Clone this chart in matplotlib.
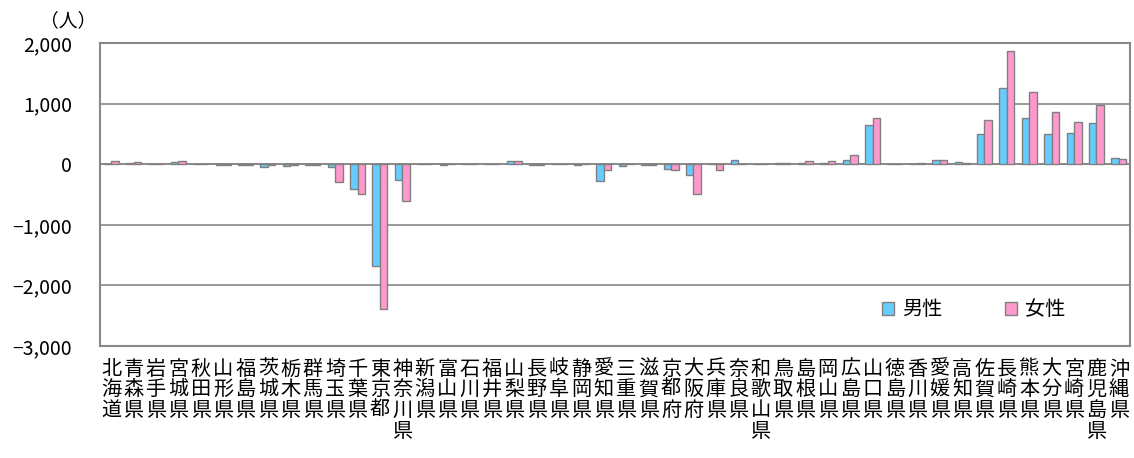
import numpy as np
import matplotlib
matplotlib.use("Agg")
import matplotlib.pyplot as plt
from matplotlib.ticker import FuncFormatter

plt.rcParams['font.family'] = ['Noto Sans CJK JP', 'DejaVu Sans']

# 都道府県（福岡県を除く）
prefs = ['北海道', '青森県', '岩手県', '宮城県', '秋田県', '山形県', '福島県',
         '茨城県', '栃木県', '群馬県', '埼玉県', '千葉県', '東京都', '神奈川県',
         '新潟県', '富山県', '石川県', '福井県', '山梨県', '長野県', '岐阜県',
         '静岡県', '愛知県', '三重県', '滋賀県', '京都府', '大阪府', '兵庫県',
         '奈良県', '和歌山県', '鳥取県', '島根県', '岡山県', '広島県', '山口県',
         '徳島県', '香川県', '愛媛県', '高知県', '佐賀県', '長崎県', '熊本県',
         '大分県', '宮崎県', '鹿児島県', '沖縄県']

male = [5, 15, 5, 35, 5, -5, -5,
        -50, -25, -5, -50, -410, -1680, -265,
        5, -5, 5, 0, 55, -5, 5,
        -5, -270, -35, -5, -80, -180, 5,
        65, 5, 25, 20, 25, 70, 655,
        5, 5, 65, 30, 505, 1265, 755,
        495, 510, 680, 100]

female = [60, 30, 5, 50, 5, -5, -5,
          -10, -15, -5, -290, -490, -2395, -605,
          5, 0, 5, 0, 45, -5, 5,
          5, -95, 5, -5, -100, -485, -95,
          5, 5, 25, 45, 55, 145, 755,
          5, 25, 75, 20, 725, 1870, 1185,
          860, 695, 975, 85]

x = np.arange(len(prefs))
w = 0.335

fig = plt.figure(figsize=(11.34, 4.58), dpi=100)
ax = fig.add_axes([0.0882, 0.2445, 0.9083, 0.6616])

ax.bar(x - w / 2, male, w, color='#66CCFF', edgecolor='#808080', linewidth=1.0,
       label='男性', zorder=3)
ax.bar(x + w / 2, female, w, color='#FF99CC', edgecolor='#808080', linewidth=1.0,
       label='女性', zorder=3)

ax.set_ylim(-3000, 2000)
ax.set_xlim(-0.5, len(prefs) - 0.5)
ax.set_yticks(range(-3000, 2001, 1000))
ax.yaxis.set_major_formatter(FuncFormatter(lambda v, p: f'{int(v):,}'.replace('-', '\u2212')))
ax.grid(axis='y', color='#888888', linewidth=1.2, zorder=0)
ax.axhline(0, color='#888888', linewidth=1.2, zorder=2)
for s in ax.spines.values():
    s.set_color('#888888')
    s.set_linewidth(1.5)

ax.set_xticks(x)
ax.set_xticklabels(['\n'.join(p) for p in prefs], fontsize=14.5, linespacing=0.98,
                   va='top')
ax.tick_params(axis='x', length=0, pad=9)
ax.tick_params(axis='y', length=0, pad=20, labelsize=14)

fig.text(0.035, 0.955, '（人）', fontsize=13.5, ha='left', va='center')

ax.legend(loc='lower right', bbox_to_anchor=(0.955, 0.025), ncol=2, frameon=False,
          fontsize=14.5, handlelength=0.6, handleheight=0.6, handletextpad=0.4,
          columnspacing=3.1)

fig.savefig('out.png', dpi=100)
